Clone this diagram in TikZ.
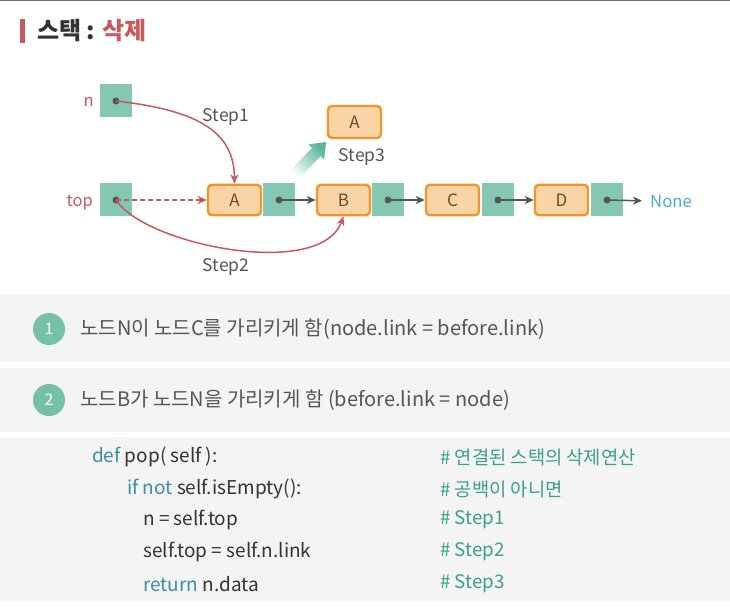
\documentclass[tikz,border=0pt]{standalone}
\usepackage{fontspec}
\setmainfont{Noto Sans CJK KR}
\usetikzlibrary{arrows.meta}
\definecolor{topline}{HTML}{7A7068}
\definecolor{redc}{HTML}{C85A5C}
\definecolor{darktxt}{HTML}{333333}
\definecolor{graytxt}{HTML}{555555}
\definecolor{band}{HTML}{F4F4F4}
\definecolor{tealsq}{HTML}{84C8B4}
\definecolor{orfill}{HTML}{FAD4A4}
\definecolor{ordraw}{HTML}{F0962A}
\definecolor{brownt}{HTML}{6B4B2B}
\definecolor{nonec}{HTML}{4AAECB}
\definecolor{circc}{HTML}{74C0A9}
\definecolor{kwc}{HTML}{3A8FA5}
\definecolor{cmc}{HTML}{3AA08C}
\definecolor{arrowg}{HTML}{5AB59C}
\begin{document}
\begin{tikzpicture}[x=1pt,y=-1pt,
  databox/.style={draw=ordraw,fill=orfill,line width=2.4pt,rounded corners=4pt,minimum width=53pt,minimum height=30.5pt,inner sep=0pt,text=brownt,font=\fontsize{17}{19}\selectfont},
  linkbox/.style={fill=tealsq,minimum width=32pt,minimum height=33pt,inner sep=0pt},
  dotc/.style={circle,fill=graytxt,minimum size=7pt,inner sep=0pt},
  larrow/.style={draw=graytxt,line width=1.5pt,-{Stealth[length=9pt,width=8pt,inset=2.5pt]}},
  rarrow/.style={draw=redc,line width=1.5pt,-{Stealth[length=9pt,width=8pt,inset=2.5pt]}},
  lbl/.style={text=graytxt,font=\fontsize{17.5}{20}\selectfont,inner sep=0pt},
  rlbl/.style={text=redc,font=\fontsize{16.5}{19}\selectfont,inner sep=0pt},
  bandtxt/.style={anchor=west,text=graytxt,font=\fontsize{20}{23}\selectfont,inner sep=0pt},
  numc/.style={circle,fill=circc,minimum size=32pt,inner sep=0pt,text=white,font=\fontsize{16}{18}\selectfont},
  codet/.style={anchor=west,text=darktxt,font=\fontsize{19}{22}\selectfont,inner sep=0pt},
  cmt/.style={anchor=west,text=cmc,font=\fontsize{18.75}{22}\selectfont,inner sep=0pt}
]
\useasboundingbox (0,0) rectangle (730,609);
\fill[white] (0,0) rectangle (730,609);
\fill[topline] (0,0) rectangle (730,1.5);
% title
\fill[redc] (20,19) rectangle (25,43);
\node[anchor=west,inner sep=0pt,font=\fontsize{24}{28}\selectfont\bfseries] (title) at (37,31) {\textcolor{darktxt}{스택 : }\textcolor{redc}{삭제}};
% diagram
\node[linkbox] (nsq) at (116,101) {};
\node[dotc] (ndot) at (116,101) {};
\node[rlbl,anchor=east] (nlbl) at (94,102) {n};
\node[linkbox] (topsq) at (116,200) {};
\node[dotc] (topdot) at (116,200) {};
\node[rlbl,anchor=east] (toplbl) at (93,203) {top};

\node[databox] (A) at (234.5,200) {A};
\node[linkbox] (Al) at (279,200) {};
\node[dotc] (Ad) at (279,200) {};
\node[databox] (B) at (343.5,200) {B};
\node[linkbox] (Bl) at (388,200) {};
\node[dotc] (Bd) at (388,200) {};
\node[databox] (C) at (452.5,200) {C};
\node[linkbox] (Cl) at (498,200) {};
\node[dotc] (Cd) at (498,200) {};
\node[databox] (D) at (561.5,200) {D};
\node[linkbox] (Dl) at (607,200) {};
\node[dotc] (Dd) at (607,200) {};
\node[anchor=west,inner sep=0pt,text=nonec,font=\fontsize{16.7}{19}\selectfont] (none) at (650,201) {None};

\draw[larrow] (Ad.center) -- (B.west);
\draw[larrow] (Bd.center) -- (C.west);
\draw[larrow] (Cd.center) -- (D.west);
\draw[larrow,shorten >=8pt] (Dd.center) -- (none.west);

\node[databox,minimum height=32pt] (Af) at (354.5,122) {A};
\node[lbl] (s3) at (362,157) {Step3};
\shade[top color=arrowg,bottom color=white,shading angle=-45]
  (288.7,171.9) -- (312.0,148.0) -- (308.4,144.5) -- (326,142) -- (324.2,159.7) -- (320.6,156.2) -- (297.3,180.1) -- cycle;

% red arrows
\draw[rarrow] (ndot.center) .. controls (195,110) and (234,130) .. (A.north);
\node[lbl] (s1) at (226,117) {Step1};
\draw[rarrow,dashed,dash pattern=on 5pt off 3pt] (topdot.center) -- (A.west);
\draw[rarrow] (topdot.center) .. controls (145,245) and (320,280) .. (B.south);
\node[lbl] (s2) at (226,267) {Step2};

% bands
\fill[band] (0,294) rectangle (730,362);
\fill[band] (0,368) rectangle (730,432);
\fill[band] (0,437) rectangle (730,601);
\node[numc] (c1) at (49,329) {1};
\node[bandtxt] (t1) at (80,329) {노드N이 노드C를 가리키게 함(node.link = before.link)};
\node[numc] (c2) at (49,400) {2};
\node[bandtxt] (t2) at (80,400) {노드B가 노드N을 가리키게 함 (before.link = node)};

% code
\node[codet] (l1) at (92,457) {\textcolor{kwc}{def} pop( self ):};
\node[codet] (l2) at (127,489) {\textcolor{kwc}{if not} self.isEmpty():};
\node[codet] (l3) at (143,520) {n = self.top};
\node[codet] (l4) at (143,552) {self.top = self.n.link};
\node[codet] (l5) at (143,584) {\textcolor{kwc}{return} n.data};
\node[cmt] (m1) at (440,457) {\# 연결된 스택의 삭제연산};
\node[cmt] (m2) at (440,489) {\# 공백이 아니면};
\node[cmt] (m3) at (440,520) {\# Step1};
\node[cmt] (m4) at (440,552) {\# Step2};
\node[cmt] (m5) at (440,584) {\# Step3};
\end{tikzpicture}
\end{document}
